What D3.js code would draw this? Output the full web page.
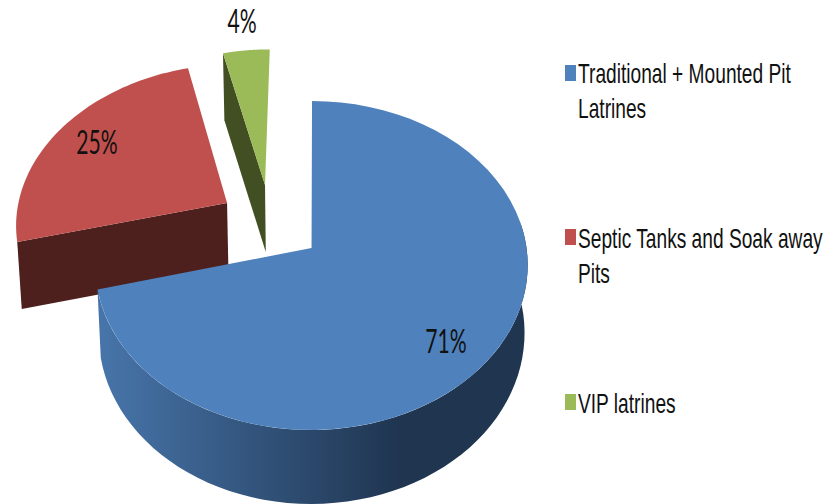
<!DOCTYPE html>
<html>
<head>
<meta charset="utf-8">
<script src="https://cdn.jsdelivr.net/npm/d3@7"></script>
<style>
    body { margin: 0; background: #fff; }
    text { fill: #111; }
</style>
</head>
<body>
<div id="chart"></div>
<script>
const categories = ['Traditional + Mounted Pit Latrines', 'Septic Tanks and Soak away Pits', 'VIP latrines'];
const legendLines = [['Traditional + Mounted Pit', 'Latrines'], ['Septic Tanks and Soak away', 'Pits'], ['VIP latrines']];
const values = [71, 25, 4];
const colors = ['#4f81bd', '#c0504d', '#9bbb59'];
const wallColors = ['#1f3550', '#4d1f1d', '#414f22'];

const dim = { width: 840, height: 504 };
// pie sits on a tilted plane: far side is squeezed, near side is stretched
const plane = { cx: 316.5, cy: 248, rx: 215, ry: 162.6, k: 0.1064, drop: 67, inset: 0.985 };
// how far each slice is pulled out, in units of the pie radius
const explode = [[-0.023, 0], [-0.4286, 0.285], [-0.2498, 0.404]];
const labelPos = [[446, 353], [97, 154], [242, 33]];
const legendRows = [[65, 83], [229, 248], [394, 413]];

const project = (u, v) => {
    const w = 1 + plane.k * v;
    return [plane.cx + plane.rx * u / w, plane.cy - plane.ry * v / w];
};

// same point on the underside of the pie
const projectLow = (u, v) => {
    const [x, y] = project(u, v);
    const drop = v < 0 ? plane.drop - 7 * v : plane.drop;
    return [plane.cx + (x - plane.cx) * plane.inset, y + drop];
};

const rimPoint = (i, a) => [explode[i][0] + Math.sin(a), explode[i][1] + Math.cos(a)];

const rim = (i, a0, a1) => d3.range(0, 61).map(k => rimPoint(i, a0 + (a1 - a0) * k / 60));

const slices = d3.pie().sort(null).value(d => d)(values);
const line = d3.line();

const svg = d3.select('#chart')
    .append('svg')
        .attr('width', dim.width)
        .attr('height', dim.height);

const grad = svg.append('defs')
    .append('linearGradient')
        .attr('id', 'blue-wall')
        .attr('gradientUnits', 'userSpaceOnUse')
        .attr('x1', 100).attr('x2', 400)
        .attr('y1', 0).attr('y2', 0);
grad.append('stop').attr('offset', 0).attr('stop-color', '#4775aa');
grad.append('stop').attr('offset', 1).attr('stop-color', wallColors[0]);

const drawSlice = (i, wallPoints, wallFill) => {
    const s = slices[i];
    const top = [explode[i]].concat(rim(i, s.startAngle, s.endAngle)).map(p => project(p[0], p[1]));
    const wallTop = wallPoints.map(p => project(p[0], p[1]));
    const wallLow = wallPoints.map(p => projectLow(p[0], p[1])).reverse();

    svg.append('path')
        .attr('d', line(wallTop.concat(wallLow)) + 'Z')
        .attr('fill', wallFill);

    svg.append('path')
        .attr('d', line(top) + 'Z')
        .attr('fill', colors[i]);
};

// back slices first, the big one overlaps them
drawSlice(1, [explode[1], rimPoint(1, slices[1].startAngle)], wallColors[1]);
drawSlice(2, [explode[2], rimPoint(2, slices[2].startAngle)], wallColors[2]);
drawSlice(0, rim(0, Math.PI * 0.45, slices[0].endAngle), 'url(#blue-wall)');

values.forEach((v, i) => {
    svg.append('text')
        .attr('transform', `translate(${labelPos[i][0]}, ${labelPos[i][1]}) scale(0.66, 1)`)
        .attr('text-anchor', 'middle')
        .attr('font-family', 'Lato')
        .attr('font-size', '32px')
        .text(`${v}%`);
});

const legend = svg.append('g').attr('class', 'chart-legend');

categories.forEach((c, i) => {
    const [boxTop, baseline] = legendRows[i];

    legend.append('rect')
        .attr('x', 565)
        .attr('y', boxTop)
        .attr('width', 11)
        .attr('height', 16)
        .attr('fill', colors[i]);

    legendLines[i].forEach((l, j) => {
        legend.append('text')
            .attr('transform', `translate(578, ${baseline + j * 35}) scale(0.71, 1)`)
            .attr('font-family', 'Liberation Sans')
            .attr('font-size', '27px')
            .text(l);
    });
});
</script>
</body>
</html>
